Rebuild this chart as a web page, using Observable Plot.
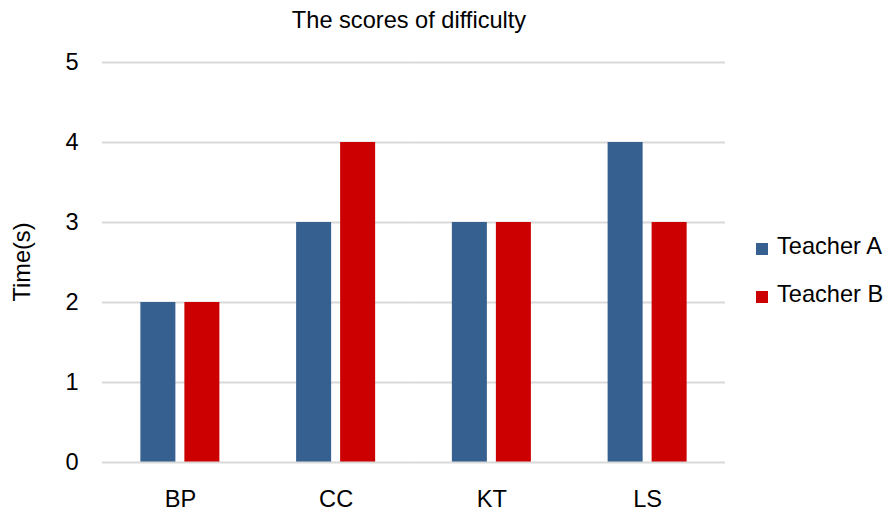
<!DOCTYPE html>
<html>
<head>
<meta charset="utf-8">
<script src="https://cdn.jsdelivr.net/npm/d3@7"></script>
<script src="https://cdn.jsdelivr.net/npm/@observablehq/plot@0.6"></script>
<style>
  html, body { margin: 0; padding: 0; background: #fff; }
  #wrap { position: relative; width: 895px; height: 514px; font-family: "Liberation Sans", Arial, sans-serif; color: #000; }
  #wrap .abs { position: absolute; white-space: nowrap; line-height: 1; }
  .sw { position: absolute; width: 12px; height: 12px; }
</style>
</head>
<body>
<div id="wrap"></div>
<script>
const categories = ["BP", "CC", "KT", "LS"];
const teachers = ["Teacher A", "Teacher B"];
const teacherA = [2, 3, 3, 4];
const teacherB = [2, 4, 3, 3];
const yTicks = [0, 1, 2, 3, 4, 5];
const colors = ["#35608F", "#CC0000"];
const titleText = "The scores of difficulty";
const yLabel = "Time(s)";

const rows = [];
categories.forEach((c, i) => {
  rows.push({cat: c, teacher: teachers[0], value: teacherA[i]});
  rows.push({cat: c, teacher: teachers[1], value: teacherB[i]});
});

const FS = 23.6;

const chart = Plot.plot({
  width: 895,
  height: 514,
  marginTop: 62,
  marginBottom: 52,
  marginLeft: 102,
  marginRight: 170,
  style: {fontFamily: '"Liberation Sans", Arial, sans-serif', fontSize: FS + "px", color: "#000", background: "transparent"},
  facet: {data: rows, x: "cat"},
  fx: {domain: categories, padding: 0, round: false, tickSize: 0, tickPadding: 28, label: null},
  x: {domain: teachers, paddingInner: 0.2045, paddingOuter: 0.872, round: false, axis: null},
  y: {domain: [0, 5], ticks: yTicks, tickSize: 0, tickPadding: 24, label: null, tickFormat: d => String(d)},
  color: {domain: teachers, range: colors},
  marks: [
    Plot.ruleY(yTicks.filter(d => d > 0), {stroke: "#d9d9d9", strokeWidth: 2, strokeOpacity: 1}),
    Plot.barY(rows, {x: "teacher", y: "value", fill: "teacher"}),
    Plot.ruleY([0], {stroke: "#d9d9d9", strokeWidth: 2, strokeOpacity: 1})
  ]
});

const wrap = document.getElementById("wrap");
wrap.appendChild(chart);

function addText(txt, left, top, size, extra) {
  const d = document.createElement("div");
  d.className = "abs";
  d.textContent = txt;
  d.style.left = left + "px";
  d.style.top = top + "px";
  d.style.fontSize = size + "px";
  if (extra) Object.assign(d.style, extra);
  wrap.appendChild(d);
  return d;
}

// title, centered at x≈409
addText(titleText, 409, 9, FS, {transform: "translateX(-50%)"});

// y label, rotated
addText(yLabel, 23, 262, FS, {transform: "translate(-50%, -50%) rotate(-90deg)"});

// legend
const legendTops = [235, 283];
teachers.forEach((t, i) => {
  const s = document.createElement("div");
  s.className = "sw";
  s.style.left = "756px";
  s.style.top = (legendTops[i] + 8) + "px";
  s.style.background = colors[i];
  wrap.appendChild(s);
  addText(t, 777, legendTops[i], FS);
});
</script>
</body>
</html>
